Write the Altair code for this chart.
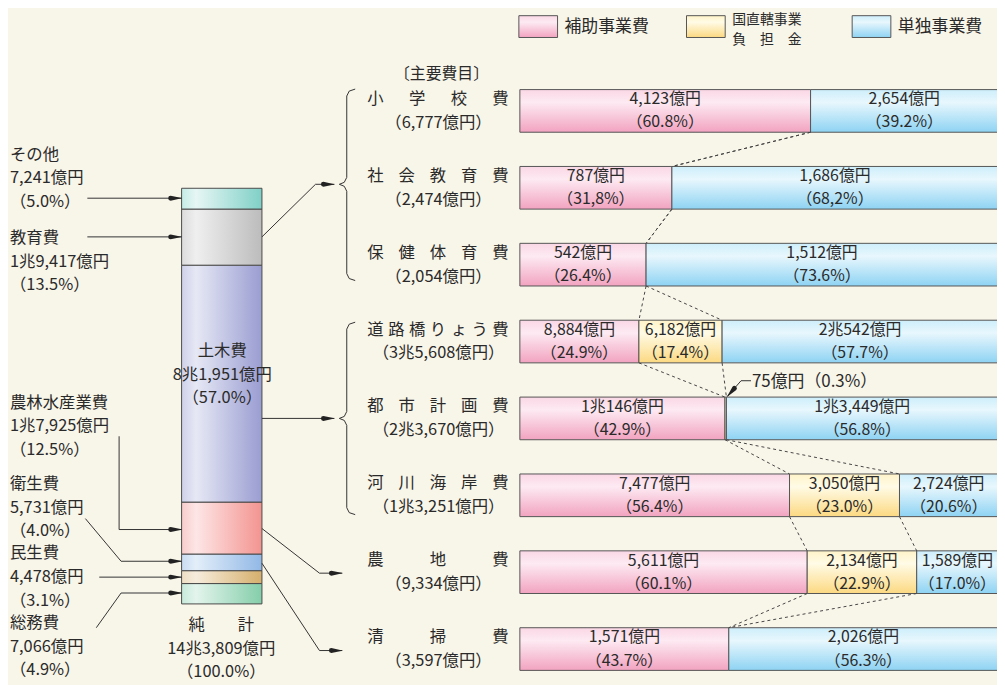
import math
import altair as alt
import pandas as pd

# ---------------- data ----------------
left_names = ["総務費", "民生費", "衛生費", "農林水産業費", "土木費", "教育費", "その他"]
left_amounts = ["7,066億円", "4,478億円", "5,731億円", "1兆7,925億円", "8兆1,951億円", "1兆9,417億円", "7,241億円"]
left_pcts = [4.9, 3.1, 4.0, 12.5, 57.0, 13.5, 5.0]
total_label = "純　　計"
total_amount = "14兆3,809億円"
total_pct = 100.0

items = ["小学校費", "社会教育費", "保健体育費", "道路橋りょう費", "都市計画費", "河川海岸費", "農地費", "清掃費"]
item_totals = ["6,777億円", "2,474億円", "2,054億円", "3兆5,608億円", "2兆3,670億円", "1兆3,251億円", "9,334億円", "3,597億円"]
types = ["補助事業費", "国直轄事業負担金", "単独事業費"]
hojo_pct = [60.8, 31.8, 26.4, 24.9, 42.9, 56.4, 60.1, 43.7]
kuni_pct = [0.0, 0.0, 0.0, 17.4, 0.3, 23.0, 22.9, 0.0]
tandoku_pct = [39.2, 68.2, 73.6, 57.7, 56.8, 20.6, 17.0, 56.3]
hojo_amt = ["4,123億円", "787億円", "542億円", "8,884億円", "1兆146億円", "7,477億円", "5,611億円", "1,571億円"]
kuni_amt = ["", "", "", "6,182億円", "75億円", "3,050億円", "2,134億円", ""]
tandoku_amt = ["2,654億円", "1,686億円", "1,512億円", "2兆542億円", "1兆3,449億円", "2,724億円", "1,589億円", "2,026億円"]
comma_decimal_items = ["社会教育費"]   # printed as "31,8%" in the original
header_text = "〔主要費目〕"
legend_lines = {"補助事業費": ["補助事業費"], "国直轄事業負担金": ["国直轄事業", "負　担　金"], "単独事業費": ["単独事業費"]}

# ---------------- layout / style ----------------
W, H = 997, 677
FONT = "Noto Sans CJK JP"
TXT = "#2a2a2a"
LINE = "#333333"
BG = "#f8f5e9"


def X(r):
    return r - 8


def Y(r):
    return r - 8


def grad_v(top, mid, bottom):
    return {"gradient": "linear", "x1": 0, "y1": 0, "x2": 0, "y2": 1,
            "stops": [{"offset": 0, "color": top}, {"offset": 0.3, "color": mid},
                      {"offset": 1, "color": bottom}]}


def grad_h(mid, light, dark):
    return {"gradient": "linear", "x1": 0, "y1": 0, "x2": 1, "y2": 0,
            "stops": [{"offset": 0, "color": mid}, {"offset": 0.18, "color": light},
                      {"offset": 1, "color": dark}]}


bar_fill = {
    "補助事業費": grad_v("#fad7e5", "#fdeaf2", "#f2a3c0"),
    "国直轄事業負担金": grad_v("#fff3c8", "#fffbe6", "#fcd982"),
    "単独事業費": grad_v("#cdeefb", "#e8f7fd", "#8ed3f3"),
}
left_fill = {
    "その他": grad_h("#c4ece7", "#e6f6f4", "#7fd0c7"),
    "教育費": grad_h("#dcdcdc", "#efefef", "#bcbcbc"),
    "土木費": grad_h("#cfd1ea", "#e6e8f5", "#9a9dd1"),
    "農林水産業費": grad_h("#f8cccc", "#fde6e6", "#f39490"),
    "衛生費": grad_h("#c9dcf2", "#e3eef9", "#92b8e6"),
    "民生費": grad_h("#eedfc4", "#f6ecdc", "#d5af6c"),
    "総務費": grad_h("#c6eadb", "#e3f4ec", "#84ceaa"),
}

xR = alt.Scale(domain=[0, 100], range=[X(524), X(1006)])
yR = alt.Scale(domain=[0, len(items) - 1], range=[Y(109), Y(651.5)])
yL = alt.Scale(domain=[0, 100], range=[Y(606), Y(187)])
HB = 21.5 / ((651.5 - 109) / (len(items) - 1))   # half bar height in row units

FS_L, LH_L = 16.5, 24.0      # left-hand labels
FS_B, LH_B = 16.0, 23.3      # labels inside bars
FS_C = 16.5                  # category names / totals

layers = []
one = pd.DataFrame({"k": [0]})

# ---------------- left stacked bar ----------------
rows = []
cum = 0.0
for n, a, p in zip(left_names, left_amounts, left_pcts):
    rows.append({"name": n, "lo": cum, "hi": cum + p, "mid": cum + p / 2,
                 "label": f"{n}\n{a}\n（{p:.1f}%）"})
    cum += p
df_left = pd.DataFrame(rows)

for n in left_names:
    layers.append(
        alt.Chart(df_left).transform_filter(alt.datum.name == n)
        .mark_rect(fill=left_fill[n], stroke="#4a4a4a", strokeWidth=1)
        .encode(y=alt.Y("lo:Q", scale=yL, axis=None), y2="hi:Q",
                x=alt.value(X(183)), x2=alt.value(X(264)))
    )

layers.append(
    alt.Chart(df_left).transform_filter(alt.datum.name == "土木費")
    .mark_text(font=FONT, fontSize=FS_L, color=TXT, lineBreak="\n", lineHeight=LH_L,
               align="center", baseline="middle", dy=-9 - LH_L)
    .encode(y=alt.Y("mid:Q", scale=yL, axis=None), x=alt.value(X(224)), text="label:N")
)

# outside labels of the left bar (y = middle line of each 3-line block)
left_label_pos = {"その他": (10, 177), "教育費": (10, 261), "農林水産業費": (10, 427),
                  "衛生費": (10, 509), "民生費": (10, 579), "総務費": (10, 649)}
lab_rows = []
for n, a, p in zip(left_names, left_amounts, left_pcts):
    if n in left_label_pos:
        px, py = left_label_pos[n]
        lab_rows.append({"x": X(px), "y": Y(py), "t": f"{n}\n{a}\n（{p:.1f}%）"})
layers.append(
    alt.Chart(pd.DataFrame(lab_rows)).mark_text(font=FONT, fontSize=FS_L, color=TXT, lineBreak="\n",
                                                lineHeight=LH_L, align="left", baseline="middle",
                                                dy=-LH_L)
    .encode(x=alt.X("x:Q", scale=None), y=alt.Y("y:Q", scale=None), text="t:N")
)
layers.append(
    alt.Chart(pd.DataFrame([{"x": X(223), "y": Y(651),
                             "t": f"{total_label}\n{total_amount}\n（{total_pct:.1f}%）"}]))
    .mark_text(font=FONT, fontSize=FS_L, color=TXT, lineBreak="\n", lineHeight=LH_L,
               align="center", baseline="middle", dy=-LH_L)
    .encode(x=alt.X("x:Q", scale=None), y=alt.Y("y:Q", scale=None), text="t:N")
)

# ---------------- guide lines, arrows, braces ----------------
arrows = [
    [(88, 197), (183, 197)],
    [(88, 236), (183, 236)],
    [(120, 437), (120, 531), (183, 531)],
    [(86, 520), (122, 563), (183, 563)],
    [(100, 579), (183, 579)],
    [(97, 630), (122, 595), (183, 595)],
    [(264, 236), (318, 183), (337, 183)],
    [(264, 419), (337, 419)],
    [(264, 530), (322, 575), (345, 575)],
    [(264, 565), (322, 653), (345, 653)],
    [(757, 381), (747, 381), (733, 397)],
]


def brace(top, mid, bot, xv=349.5, xt=342, xe=358):
    return [(xe, top), (352, top + 2), (xv, top + 7), (xv, mid - 7), (347, mid - 2), (xt, mid),
            (347, mid + 2), (xv, mid + 7), (xv, bot - 7), (352, bot - 2), (xe, bot)]


polys = arrows + [brace(87, 183, 280), brace(322, 419, 516)]

prow = []
heads = []
for i, pts in enumerate(polys):
    for j, (px, py) in enumerate(pts):
        prow.append({"id": i, "o": j, "x": X(px), "y": Y(py)})
for i, pts in enumerate(arrows):
    (x0, y0), (x1, y1) = pts[-2], pts[-1]
    d = math.hypot(x1 - x0, y1 - y0)
    ux, uy = (x1 - x0) / d, (y1 - y0) / d
    L = 11.0
    heads.append({"id": i, "o": 0, "x": X(x1 - ux * L), "y": Y(y1 - uy * L), "w": 5.0})
    heads.append({"id": i, "o": 1, "x": X(x1), "y": Y(y1), "w": 0.3})
layers.append(
    alt.Chart(pd.DataFrame(prow)).mark_line(color=LINE, strokeWidth=1)
    .encode(x=alt.X("x:Q", scale=None), y=alt.Y("y:Q", scale=None), detail="id:N", order="o:Q")
)
layers.append(
    alt.Chart(pd.DataFrame(heads)).mark_trail(color="#222222", opacity=1)
    .encode(x=alt.X("x:Q", scale=None), y=alt.Y("y:Q", scale=None), detail="id:N", order="o:Q",
            size=alt.Size("w:Q", scale=None, legend=None))
)

# ---------------- right bars ----------------
seg = []
for i, it in enumerate(items):
    s = 0.0
    for t, p, a in zip(types, (hojo_pct[i], kuni_pct[i], tandoku_pct[i]),
                       (hojo_amt[i], kuni_amt[i], tandoku_amt[i])):
        if p > 0:
            ptxt = f"（{p:.1f}%）"
            if it in comma_decimal_items:
                ptxt = ptxt.replace(".", ",")
            lab = f"{a}\n{ptxt}" if (a and p >= 5) else ""
            seg.append({"row": i, "type": t, "s": s, "e": s + p, "mid": s + p / 2,
                        "y0": i - HB, "y1": i + HB, "label": lab})
        s += p
df_seg = pd.DataFrame(seg)

for t in types:
    layers.append(
        alt.Chart(df_seg).transform_filter(alt.datum.type == t)
        .mark_rect(fill=bar_fill[t], stroke="#555555", strokeWidth=1)
        .encode(x=alt.X("s:Q", scale=xR, axis=None), x2="e:Q",
                y=alt.Y("y0:Q", scale=yR, axis=None), y2="y1:Q")
    )

# dashed connectors between successive bars
con = []
for i in range(len(items) - 1):
    a0, a1 = hojo_pct[i], hojo_pct[i + 1]
    b0, b1 = hojo_pct[i] + kuni_pct[i], hojo_pct[i + 1] + kuni_pct[i + 1]
    for u, v in ((a0, a1), (b0, b1)):
        con.append({"x": u, "x2": v, "y": i + HB, "y2": i + 1 - HB})
layers.append(
    alt.Chart(pd.DataFrame(con)).mark_rule(color="#444444", strokeWidth=1, strokeDash=[3, 3])
    .encode(x=alt.X("x:Q", scale=xR, axis=None), x2="x2:Q",
            y=alt.Y("y:Q", scale=yR, axis=None), y2="y2:Q")
)

layers.append(
    alt.Chart(df_seg).transform_filter(alt.datum.label != "")
    .mark_text(font=FONT, fontSize=FS_B, color=TXT, lineBreak="\n", lineHeight=LH_B,
               align="center", baseline="middle", dy=-LH_B / 2)
    .encode(x=alt.X("mid:Q", scale=xR, axis=None), y=alt.Y("row:Q", scale=yR, axis=None),
            text="label:N")
)

# category names (characters spread across a fixed width) and totals
ch_rows = []
for i, it in enumerate(items):
    n = len(it)
    for j, c in enumerate(it):
        cx = 378.5 + (504.5 - 378.5) * (j / (n - 1) if n > 1 else 0.5)
        ch_rows.append({"row": i, "x": X(cx), "c": c})
layers.append(
    alt.Chart(pd.DataFrame(ch_rows)).mark_text(font=FONT, fontSize=FS_C, color=TXT, align="center",
                                               baseline="middle", dy=-12)
    .encode(x=alt.X("x:Q", scale=None), y=alt.Y("row:Q", scale=yR, axis=None), text="c:N")
)
df_tot = pd.DataFrame({"row": list(range(len(items))), "t": [f"（{v}）" for v in item_totals]})
layers.append(
    alt.Chart(df_tot).mark_text(font=FONT, fontSize=FS_C, color=TXT, align="center",
                                baseline="middle", dy=12)
    .encode(x=alt.value(X(442)), y=alt.Y("row:Q", scale=yR, axis=None), text="t:N")
)
layers.append(
    alt.Chart(one).mark_text(font=FONT, fontSize=16, color=TXT, align="center", baseline="middle",
                             text=header_text)
    .encode(x=alt.value(X(445)), y=alt.value(Y(72)))
)

# 75億円 annotation for the tiny segment
ann = [{"row": i, "t": f"{kuni_amt[i]}（{kuni_pct[i]:.1f}%）"}
       for i in range(len(items)) if 0 < kuni_pct[i] < 5]
layers.append(
    alt.Chart(pd.DataFrame(ann)).mark_text(font=FONT, fontSize=17, color=TXT, align="left",
                                           baseline="middle", dy=-37)
    .encode(x=alt.value(X(758)), y=alt.Y("row:Q", scale=yR, axis=None), text="t:N")
)

# ---------------- legend ----------------
leg_box = {"補助事業費": 523, "国直轄事業負担金": 692, "単独事業費": 859}
for t in types:
    bx = leg_box[t]
    layers.append(
        alt.Chart(one).mark_rect(fill=bar_fill[t], stroke="#555555", strokeWidth=1)
        .encode(x=alt.value(X(bx)), x2=alt.value(X(bx + 39)), y=alt.value(Y(13)), y2=alt.value(Y(35)))
    )
    lines = legend_lines[t]
    ys = [24] if len(lines) == 1 else [17.5, 37.5]
    for ln, yy in zip(lines, ys):
        layers.append(
            alt.Chart(one).mark_text(font=FONT, fontSize=14 if len(lines) > 1 else 17, color=TXT,
                                     align="left", baseline="middle", text=ln)
            .encode(x=alt.value(X(bx + 46)), y=alt.value(Y(yy)))
        )

chart = (
    alt.layer(*layers)
    .properties(width=W, height=H, background=BG, padding=0,
                autosize=alt.AutoSizeParams(type="none"))
    .resolve_scale(x="independent", y="independent")
    .configure_view(stroke=None)
)

chart.save("out.html", embed_options={"renderer": "svg", "actions": False})
